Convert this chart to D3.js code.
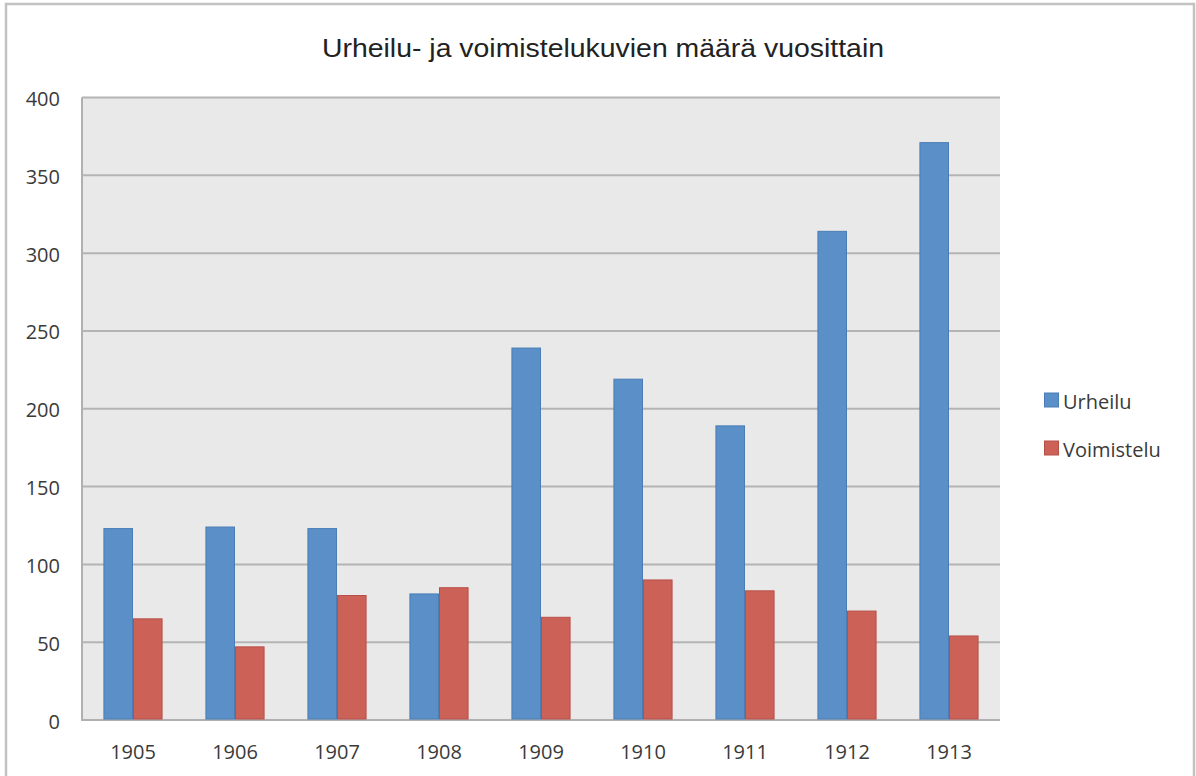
<!DOCTYPE html>
<html>
<head>
<meta charset="utf-8">
<script src="https://cdn.jsdelivr.net/npm/d3@7"></script>
<style>
  body { margin: 0; background: #fff; }
  text { fill: #333; }
</style>
</head>
<body>
<script>
'use strict';

// chart data
const years = ['1905', '1906', '1907', '1908', '1909', '1910', '1911', '1912', '1913'];
const urheilu = [123, 124, 123, 81, 239, 219, 189, 314, 371];
const voimistelu = [65, 47, 80, 85, 66, 90, 83, 70, 54];
const seriesNames = ['Urheilu', 'Voimistelu'];
const yTicks = [0, 50, 100, 150, 200, 250, 300, 350, 400];
const title = 'Urheilu- ja voimistelukuvien määrä vuosittain';

(function() {
  const width = 1196, height = 776;
  const fills = ['#5b8fc7', '#cc6157'];
  const strokes = ['#4a7db6', '#b8504a'];
  const plot = { left: 82, right: 1000, top: 97.5, bottom: 720 };
  const labelFont = '"Open Sans", sans-serif';

  let svg = d3.select('body').append('svg')
    .attr('width', width)
    .attr('height', height);

  // outer frame of the picture
  svg.append('rect')
    .attr('x', 6).attr('y', 4)
    .attr('width', 1188).attr('height', 800)
    .style('fill', 'none')
    .style('stroke', '#c2c2c2')
    .style('stroke-width', 2.5);

  // scales
  let x0 = d3.scaleBand()
    .domain(years)
    .range([plot.left, plot.right])
    .paddingInner(0.42)
    .paddingOuter(0.21);

  let x1 = d3.scaleBand()
    .domain(seriesNames)
    .range([0, x0.bandwidth()]);

  let y = d3.scaleLinear()
    .domain([0, 400])
    .range([plot.bottom, plot.top]);

  // plot background
  svg.append('rect')
    .attr('x', plot.left).attr('y', plot.top)
    .attr('width', plot.right - plot.left)
    .attr('height', plot.bottom - plot.top)
    .style('fill', '#e9e9e9');

  // grid lines
  svg.append('g')
    .selectAll('line')
    .data(yTicks.filter(d => d > 0))
    .enter()
    .append('line')
      .attr('x1', plot.left).attr('x2', plot.right)
      .attr('y1', d => y(d)).attr('y2', d => y(d))
      .style('stroke', '#b4b4b4')
      .style('stroke-width', 2);

  // y axis
  let yAxis = d3.axisLeft(y).tickValues(yTicks).tickSize(0).tickPadding(22);
  let gy = svg.append('g')
    .attr('transform', `translate(${plot.left}, 0)`)
    .call(yAxis);
  gy.select('.domain').remove();
  gy.selectAll('text')
    .attr('dy', '0.4em')
    .style('font-family', labelFont)
    .style('font-size', '20px')
    .style('fill', '#3a3a3a');

  // x axis
  let xAxis = d3.axisBottom(x0).tickSize(0).tickPadding(25);
  let gx = svg.append('g')
    .attr('transform', `translate(0, ${plot.bottom})`)
    .call(xAxis);
  gx.select('.domain').remove();
  gx.selectAll('text')
    .style('font-family', labelFont)
    .style('font-size', '20px')
    .style('fill', '#3a3a3a');

  // axis lines (left and bottom of plot)
  svg.append('path')
    .attr('d', d3.line()([[plot.left, plot.top], [plot.left, plot.bottom], [plot.right, plot.bottom]]))
    .style('fill', 'none')
    .style('stroke', '#b0b0b0')
    .style('stroke-width', 2);

  // bars
  let rows = years.map((yr, i) => ({ year: yr, values: [urheilu[i], voimistelu[i]] }));
  let groups = svg.append('g')
    .selectAll('g')
    .data(rows)
    .enter()
    .append('g')
      .attr('transform', d => `translate(${x0(d.year)}, 0)`);

  groups.selectAll('rect')
    .data(d => d.values.map((v, k) => ({ key: seriesNames[k], k: k, value: v })))
    .enter()
    .append('rect')
      .attr('x', d => x1(d.key) + 0.5)
      .attr('y', d => y(d.value))
      .attr('width', x1.bandwidth() - 1)
      .attr('height', d => plot.bottom - y(d.value) - 1)
      .style('fill', d => fills[d.k])
      .style('stroke', d => strokes[d.k])
      .style('stroke-width', 1);

  // title
  svg.append('text')
    .attr('x', 322)
    .attr('y', 57)
    .attr('textLength', 562)
    .attr('lengthAdjust', 'spacingAndGlyphs')
    .style('font-family', '"Liberation Sans", Arial, sans-serif')
    .style('font-size', '26px')
    .style('fill', '#222')
    .text(title);

  // legend
  let legend = svg.append('g')
    .selectAll('g')
    .data(seriesNames)
    .enter()
    .append('g')
      .attr('transform', (d, i) => `translate(1044.5, ${393 + i * 48})`);

  legend.append('rect')
    .attr('width', 14).attr('height', 14)
    .style('fill', (d, i) => fills[i])
    .style('stroke', (d, i) => strokes[i])
    .style('stroke-width', 1);

  legend.append('text')
    .attr('x', 18.5)
    .attr('y', 9)
    .attr('dy', '0.35em')
    .style('font-family', labelFont)
    .style('font-size', '20px')
    .style('fill', '#3a3a3a')
    .text(d => d);
})();
</script>
</body>
</html>
